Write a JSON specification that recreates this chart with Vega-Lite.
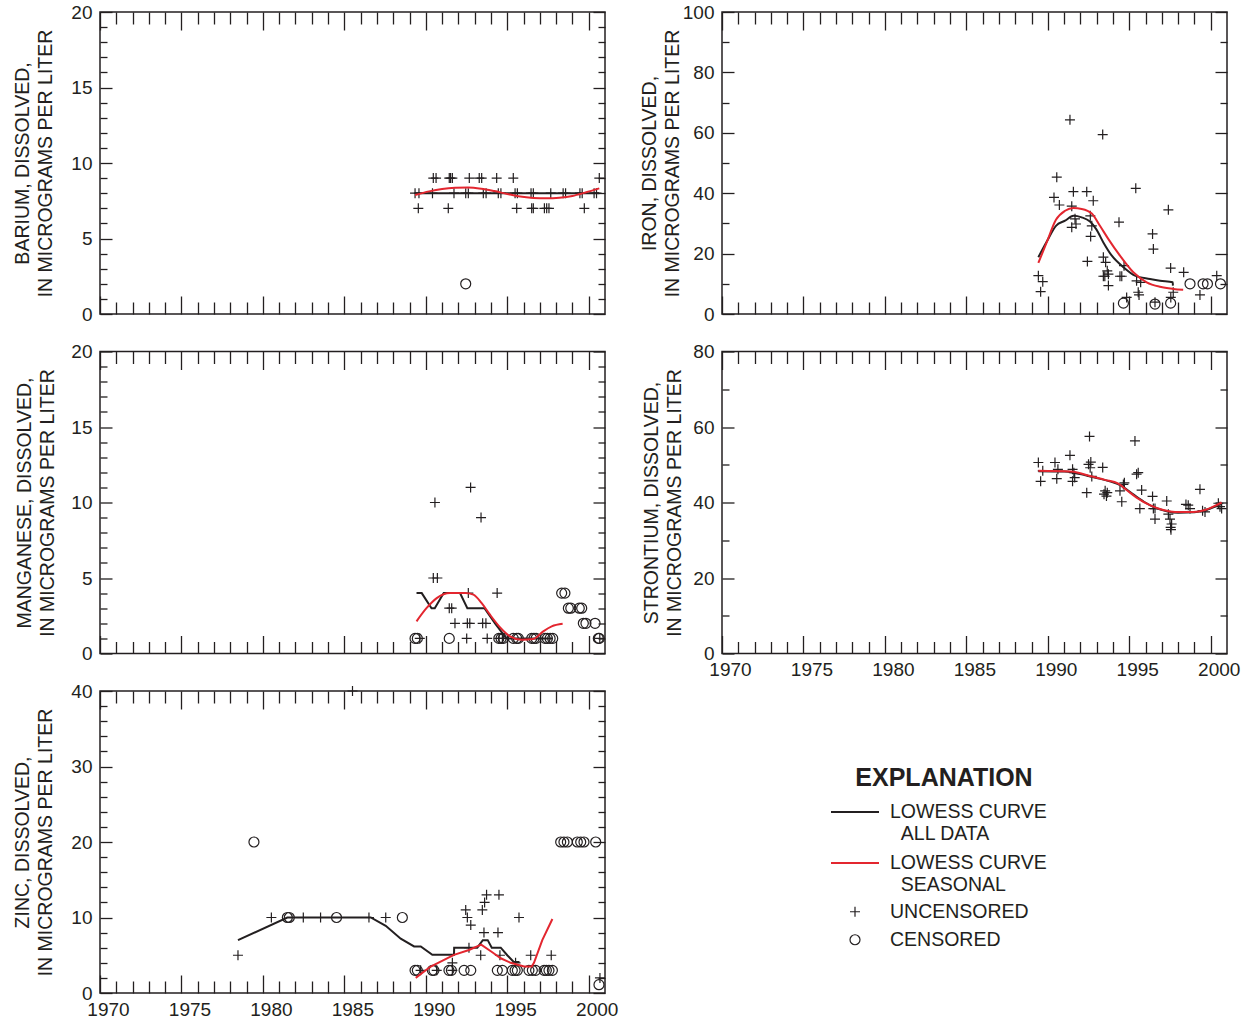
{
"$schema": "https://vega.github.io/schema/vega-lite/v6.json",
"padding": {"left": 12, "top": 2, "right": 5, "bottom": 5},
"background": "white",
"datasets": {
"ba": [
{"year":1989.34,"value":8,"kind":"uncensored"},{"year":1989.58,"value":8,"kind":"uncensored"},{"year":1990.41,"value":8,"kind":"uncensored"},{"year":1991.73,"value":8,"kind":"uncensored"},{"year":1992.45,"value":8,"kind":"uncensored"},{"year":1992.61,"value":8,"kind":"uncensored"},{"year":1993.53,"value":8,"kind":"uncensored"},{"year":1993.70,"value":8,"kind":"uncensored"},{"year":1994.45,"value":8,"kind":"uncensored"},{"year":1994.61,"value":8,"kind":"uncensored"},{"year":1995.48,"value":8,"kind":"uncensored"},{"year":1995.62,"value":8,"kind":"uncensored"},{"year":1996.46,"value":8,"kind":"uncensored"},{"year":1996.60,"value":8,"kind":"uncensored"},{"year":1997.67,"value":8,"kind":"uncensored"},{"year":1998.43,"value":8,"kind":"uncensored"},{"year":1998.58,"value":8,"kind":"uncensored"},{"year":1999.46,"value":8,"kind":"uncensored"},{"year":1999.60,"value":8,"kind":"uncensored"},{"year":2000.33,"value":8,"kind":"uncensored"},{"year":2000.48,"value":8,"kind":"uncensored"},
{"year":1990.46,"value":9,"kind":"uncensored"},{"year":1990.63,"value":9,"kind":"uncensored"},{"year":1991.44,"value":9,"kind":"uncensored"},{"year":1991.52,"value":9,"kind":"uncensored"},{"year":1991.63,"value":9,"kind":"uncensored"},{"year":1992.67,"value":9,"kind":"uncensored"},{"year":1993.28,"value":9,"kind":"uncensored"},{"year":1993.43,"value":9,"kind":"uncensored"},{"year":1994.35,"value":9,"kind":"uncensored"},{"year":1995.37,"value":9,"kind":"uncensored"},{"year":2000.65,"value":9,"kind":"uncensored"},
{"year":1989.54,"value":7,"kind":"uncensored"},{"year":1991.38,"value":7,"kind":"uncensored"},{"year":1995.58,"value":7,"kind":"uncensored"},{"year":1996.50,"value":7,"kind":"uncensored"},{"year":1996.60,"value":7,"kind":"uncensored"},{"year":1997.28,"value":7,"kind":"uncensored"},{"year":1997.42,"value":7,"kind":"uncensored"},{"year":1997.56,"value":7,"kind":"uncensored"},{"year":1999.73,"value":7,"kind":"uncensored"},
{"year":1992.45,"value":2,"kind":"censored"},
{"year":1989.34,"value":8,"kind":"all"},{"year":2000.65,"value":8,"kind":"all"},
{"year":1989.34,"value":7.88,"kind":"seasonal"},{"year":1990.2,"value":8.12,"kind":"seasonal"},{"year":1991.0,"value":8.28,"kind":"seasonal"},{"year":1991.8,"value":8.36,"kind":"seasonal"},{"year":1992.6,"value":8.38,"kind":"seasonal"},{"year":1993.4,"value":8.3,"kind":"seasonal"},{"year":1994.2,"value":8.14,"kind":"seasonal"},{"year":1995.0,"value":7.95,"kind":"seasonal"},{"year":1995.8,"value":7.78,"kind":"seasonal"},{"year":1996.6,"value":7.69,"kind":"seasonal"},{"year":1997.4,"value":7.66,"kind":"seasonal"},{"year":1998.2,"value":7.7,"kind":"seasonal"},{"year":1999.0,"value":7.82,"kind":"seasonal"},{"year":1999.8,"value":8.05,"kind":"seasonal"},{"year":2000.65,"value":8.32,"kind":"seasonal"}
],
"fe": [
{"year":1991.36,"value":64.3,"kind":"uncensored"},{"year":1993.37,"value":59.4,"kind":"uncensored"},{"year":1990.55,"value":45.3,"kind":"uncensored"},{"year":1991.57,"value":40.5,"kind":"uncensored"},{"year":1992.39,"value":40.5,"kind":"uncensored"},{"year":1990.38,"value":38.6,"kind":"uncensored"},{"year":1990.71,"value":36.1,"kind":"uncensored"},{"year":1992.79,"value":37.5,"kind":"uncensored"},{"year":1991.47,"value":35.7,"kind":"uncensored"},{"year":1995.4,"value":41.6,"kind":"uncensored"},{"year":1997.4,"value":34.5,"kind":"uncensored"},{"year":1994.37,"value":30.4,"kind":"uncensored"},{"year":1992.61,"value":32.5,"kind":"uncensored"},{"year":1991.67,"value":31.5,"kind":"uncensored"},{"year":1991.73,"value":29.8,"kind":"uncensored"},{"year":1991.47,"value":28.7,"kind":"uncensored"},{"year":1992.7,"value":29.2,"kind":"uncensored"},{"year":1992.63,"value":25.7,"kind":"uncensored"},{"year":1996.43,"value":26.5,"kind":"uncensored"},{"year":1996.48,"value":21.5,"kind":"uncensored"},{"year":1992.43,"value":17.4,"kind":"uncensored"},{"year":1993.41,"value":18.8,"kind":"uncensored"},{"year":1993.55,"value":17.1,"kind":"uncensored"},{"year":1993.65,"value":14.3,"kind":"uncensored"},{"year":1993.72,"value":13.2,"kind":"uncensored"},{"year":1993.41,"value":12.5,"kind":"uncensored"},{"year":1993.5,"value":12.5,"kind":"uncensored"},{"year":1993.72,"value":9.4,"kind":"uncensored"},{"year":1994.43,"value":12.5,"kind":"uncensored"},{"year":1994.54,"value":12.5,"kind":"uncensored"},{"year":1994.68,"value":16,"kind":"uncensored"},{"year":1995.45,"value":11,"kind":"uncensored"},{"year":1995.7,"value":10.5,"kind":"uncensored"},{"year":1995.55,"value":7.2,"kind":"uncensored"},{"year":1995.6,"value":6.3,"kind":"uncensored"},{"year":1997.54,"value":15.2,"kind":"uncensored"},{"year":1998.34,"value":13.8,"kind":"uncensored"},{"year":1997.7,"value":7.2,"kind":"uncensored"},{"year":1997.55,"value":5.5,"kind":"uncensored"},{"year":1999.34,"value":6.3,"kind":"uncensored"},{"year":2000.37,"value":12.7,"kind":"uncensored"},{"year":1989.42,"value":12.7,"kind":"uncensored"},{"year":1989.69,"value":10.7,"kind":"uncensored"},{"year":1989.56,"value":7.4,"kind":"uncensored"},{"year":1994.84,"value":5.5,"kind":"uncensored"},{"year":1996.58,"value":3.9,"kind":"uncensored"},
{"year":1994.64,"value":3.6,"kind":"censored"},{"year":1996.58,"value":3.3,"kind":"censored"},{"year":1997.54,"value":3.6,"kind":"censored"},{"year":1998.73,"value":10,"kind":"censored"},{"year":1999.53,"value":10,"kind":"censored"},{"year":1999.8,"value":10,"kind":"censored"},{"year":2000.6,"value":10,"kind":"censored"},
{"year":1989.42,"value":18.8,"kind":"all"},{"year":1989.93,"value":23.9,"kind":"all"},{"year":1990.5,"value":29.2,"kind":"all"},{"year":1991.06,"value":30.9,"kind":"all"},{"year":1991.57,"value":32.5,"kind":"all"},{"year":1992.08,"value":32,"kind":"all"},{"year":1992.59,"value":30.6,"kind":"all"},{"year":1992.97,"value":28.1,"kind":"all"},{"year":1993.41,"value":23.7,"kind":"all"},{"year":1993.93,"value":19.3,"kind":"all"},{"year":1994.64,"value":15.5,"kind":"all"},{"year":1995.35,"value":12.7,"kind":"all"},{"year":1996.27,"value":11.6,"kind":"all"},{"year":1996.89,"value":11,"kind":"all"},{"year":1997.67,"value":10.5,"kind":"all"},{"year":1997.68,"value":9.4,"kind":"all"},
{"year":1989.42,"value":16.9,"kind":"seasonal"},{"year":1989.93,"value":23.7,"kind":"seasonal"},{"year":1990.5,"value":31.2,"kind":"seasonal"},{"year":1991.06,"value":34.2,"kind":"seasonal"},{"year":1991.57,"value":35.1,"kind":"seasonal"},{"year":1992.08,"value":34.8,"kind":"seasonal"},{"year":1992.7,"value":33.3,"kind":"seasonal"},{"year":1993.2,"value":29.2,"kind":"seasonal"},{"year":1993.72,"value":24.8,"kind":"seasonal"},{"year":1994.43,"value":19.3,"kind":"seasonal"},{"year":1995.25,"value":13.8,"kind":"seasonal"},{"year":1996.07,"value":10.5,"kind":"seasonal"},{"year":1996.89,"value":9,"kind":"seasonal"},{"year":1997.7,"value":8.3,"kind":"seasonal"},{"year":1998.31,"value":8,"kind":"seasonal"}
],
"mn": [
{"year":1990.56,"value":10,"kind":"uncensored"},{"year":1992.75,"value":11,"kind":"uncensored"},{"year":1993.39,"value":9,"kind":"uncensored"},{"year":1990.46,"value":5,"kind":"uncensored"},{"year":1990.71,"value":5,"kind":"uncensored"},{"year":1992.61,"value":4,"kind":"uncensored"},{"year":1994.38,"value":4,"kind":"uncensored"},{"year":1991.44,"value":3,"kind":"uncensored"},{"year":1991.59,"value":3,"kind":"uncensored"},{"year":1991.79,"value":2,"kind":"uncensored"},{"year":1992.55,"value":2,"kind":"uncensored"},{"year":1992.7,"value":2,"kind":"uncensored"},{"year":1993.49,"value":2,"kind":"uncensored"},{"year":1993.69,"value":2,"kind":"uncensored"},{"year":1989.63,"value":1,"kind":"uncensored"},{"year":1992.51,"value":1,"kind":"uncensored"},{"year":1993.77,"value":1,"kind":"uncensored"},{"year":1994.5,"value":1,"kind":"uncensored"},{"year":1994.7,"value":1,"kind":"uncensored"},{"year":2000.68,"value":1,"kind":"uncensored"},
{"year":1989.34,"value":1,"kind":"censored"},{"year":1989.48,"value":1,"kind":"censored"},{"year":1991.44,"value":1,"kind":"censored"},{"year":1994.48,"value":1,"kind":"censored"},{"year":1994.62,"value":1,"kind":"censored"},{"year":1994.76,"value":1,"kind":"censored"},{"year":1995.37,"value":1,"kind":"censored"},{"year":1995.58,"value":1,"kind":"censored"},{"year":1995.68,"value":1,"kind":"censored"},{"year":1996.5,"value":1,"kind":"censored"},{"year":1996.64,"value":1,"kind":"censored"},{"year":1996.77,"value":1,"kind":"censored"},{"year":1997.32,"value":1,"kind":"censored"},{"year":1997.46,"value":1,"kind":"censored"},{"year":1997.63,"value":1,"kind":"censored"},{"year":1997.79,"value":1,"kind":"censored"},{"year":1998.34,"value":4,"kind":"censored"},{"year":1998.54,"value":4,"kind":"censored"},{"year":1998.75,"value":3,"kind":"censored"},{"year":1998.9,"value":3,"kind":"censored"},{"year":1999.42,"value":3,"kind":"censored"},{"year":1999.57,"value":3,"kind":"censored"},{"year":1999.67,"value":2,"kind":"censored"},{"year":1999.83,"value":2,"kind":"censored"},{"year":2000.39,"value":2,"kind":"censored"},{"year":2000.59,"value":1,"kind":"censored"},{"year":2000.65,"value":1,"kind":"censored"},
{"year":1989.43,"value":4,"kind":"all"},{"year":1989.75,"value":4,"kind":"all"},{"year":1990.35,"value":3,"kind":"all"},{"year":1990.55,"value":3,"kind":"all"},{"year":1991.1,"value":4,"kind":"all"},{"year":1992.1,"value":4,"kind":"all"},{"year":1992.55,"value":3,"kind":"all"},{"year":1993.6,"value":3,"kind":"all"},{"year":1994.25,"value":2,"kind":"all"},{"year":1994.95,"value":1,"kind":"all"},{"year":1997.8,"value":1,"kind":"all"},
{"year":1989.43,"value":2.13,"kind":"seasonal"},{"year":1990.04,"value":3.0,"kind":"seasonal"},{"year":1990.67,"value":3.67,"kind":"seasonal"},{"year":1991.49,"value":4.0,"kind":"seasonal"},{"year":1992.41,"value":4.0,"kind":"seasonal"},{"year":1992.92,"value":3.9,"kind":"seasonal"},{"year":1993.43,"value":3.34,"kind":"seasonal"},{"year":1993.94,"value":2.57,"kind":"seasonal"},{"year":1994.56,"value":1.73,"kind":"seasonal"},{"year":1995.17,"value":1.14,"kind":"seasonal"},{"year":1995.89,"value":0.91,"kind":"seasonal"},{"year":1996.6,"value":0.96,"kind":"seasonal"},{"year":1997.21,"value":1.47,"kind":"seasonal"},{"year":1997.73,"value":1.8,"kind":"seasonal"},{"year":1998.4,"value":1.97,"kind":"seasonal"}
],
"sr": [
{"year":1989.42,"value":50.6,"kind":"uncensored"},{"year":1989.56,"value":45.6,"kind":"uncensored"},{"year":1989.69,"value":48.4,"kind":"uncensored"},{"year":1990.44,"value":50.6,"kind":"uncensored"},{"year":1990.55,"value":46.3,"kind":"uncensored"},{"year":1990.62,"value":48.8,"kind":"uncensored"},{"year":1991.36,"value":52.5,"kind":"uncensored"},{"year":1991.52,"value":48.8,"kind":"uncensored"},{"year":1991.6,"value":47.9,"kind":"uncensored"},{"year":1991.52,"value":45.6,"kind":"uncensored"},{"year":1991.65,"value":46.6,"kind":"uncensored"},{"year":1992.56,"value":57.5,"kind":"uncensored"},{"year":1992.39,"value":42.6,"kind":"uncensored"},{"year":1992.5,"value":50.1,"kind":"uncensored"},{"year":1992.64,"value":50.7,"kind":"uncensored"},{"year":1992.7,"value":46.9,"kind":"uncensored"},{"year":1992.6,"value":49.2,"kind":"uncensored"},{"year":1993.37,"value":49.3,"kind":"uncensored"},{"year":1993.45,"value":42.2,"kind":"uncensored"},{"year":1993.52,"value":43.1,"kind":"uncensored"},{"year":1993.6,"value":41.7,"kind":"uncensored"},{"year":1993.65,"value":42.6,"kind":"uncensored"},{"year":1994.43,"value":43.1,"kind":"uncensored"},{"year":1994.54,"value":40.2,"kind":"uncensored"},{"year":1994.64,"value":44.8,"kind":"uncensored"},{"year":1994.7,"value":45.2,"kind":"uncensored"},{"year":1995.35,"value":56.3,"kind":"uncensored"},{"year":1995.45,"value":47.5,"kind":"uncensored"},{"year":1995.55,"value":47.9,"kind":"uncensored"},{"year":1995.76,"value":43.3,"kind":"uncensored"},{"year":1995.65,"value":38.4,"kind":"uncensored"},{"year":1996.43,"value":41.6,"kind":"uncensored"},{"year":1996.48,"value":38.4,"kind":"uncensored"},{"year":1996.58,"value":38.4,"kind":"uncensored"},{"year":1996.58,"value":35.6,"kind":"uncensored"},{"year":1997.3,"value":40.4,"kind":"uncensored"},{"year":1997.4,"value":36.9,"kind":"uncensored"},{"year":1997.5,"value":35.6,"kind":"uncensored"},{"year":1997.6,"value":34.3,"kind":"uncensored"},{"year":1997.54,"value":33.4,"kind":"uncensored"},{"year":1997.56,"value":32.8,"kind":"uncensored"},{"year":1998.48,"value":39.5,"kind":"uncensored"},{"year":1998.62,"value":39.3,"kind":"uncensored"},{"year":1998.73,"value":38.4,"kind":"uncensored"},{"year":1999.34,"value":43.5,"kind":"uncensored"},{"year":1999.5,"value":37.8,"kind":"uncensored"},{"year":1999.65,"value":37.5,"kind":"uncensored"},{"year":2000.47,"value":39.8,"kind":"uncensored"},{"year":2000.57,"value":38.9,"kind":"uncensored"},{"year":2000.67,"value":38.4,"kind":"uncensored"},
{"year":1989.42,"value":48.3,"kind":"all"},{"year":1991.0,"value":48.2,"kind":"all"},{"year":1991.6,"value":47.9,"kind":"all"},{"year":1992.3,"value":47.2,"kind":"all"},{"year":1993.0,"value":46.5,"kind":"all"},{"year":1993.8,"value":45.6,"kind":"all"},{"year":1994.5,"value":44.5,"kind":"all"},{"year":1995.2,"value":42.3,"kind":"all"},{"year":1995.9,"value":40.2,"kind":"all"},{"year":1996.6,"value":38.6,"kind":"all"},{"year":1997.3,"value":37.7,"kind":"all"},{"year":1998.0,"value":37.3,"kind":"all"},{"year":1999.0,"value":37.4,"kind":"all"},{"year":1999.7,"value":38.0,"kind":"all"},{"year":2000.2,"value":38.8,"kind":"all"},{"year":2000.67,"value":39.8,"kind":"all"},
{"year":1989.42,"value":48.4,"kind":"seasonal"},{"year":1991.36,"value":48.2,"kind":"seasonal"},{"year":1991.87,"value":47.9,"kind":"seasonal"},{"year":1992.59,"value":47.0,"kind":"seasonal"},{"year":1993.51,"value":46.0,"kind":"seasonal"},{"year":1994.33,"value":45.0,"kind":"seasonal"},{"year":1994.84,"value":43.3,"kind":"seasonal"},{"year":1995.45,"value":41.3,"kind":"seasonal"},{"year":1996.27,"value":39.3,"kind":"seasonal"},{"year":1997.09,"value":38.0,"kind":"seasonal"},{"year":1997.81,"value":37.5,"kind":"seasonal"},{"year":1998.93,"value":37.5,"kind":"seasonal"},{"year":1999.65,"value":38.0,"kind":"seasonal"},{"year":2000.16,"value":38.9,"kind":"seasonal"},{"year":2000.67,"value":40.0,"kind":"seasonal"}
],
"zn": [
{"year":1978.47,"value":5,"kind":"uncensored"},{"year":1980.52,"value":10,"kind":"uncensored"},{"year":1982.48,"value":10,"kind":"uncensored"},{"year":1983.54,"value":10,"kind":"uncensored"},{"year":1985.5,"value":40,"kind":"uncensored"},{"year":1986.51,"value":10,"kind":"uncensored"},{"year":1987.54,"value":10,"kind":"uncensored"},{"year":1989.68,"value":3,"kind":"uncensored"},{"year":1990.67,"value":3,"kind":"uncensored"},{"year":1991.63,"value":3,"kind":"uncensored"},{"year":1991.63,"value":4,"kind":"uncensored"},{"year":1992.45,"value":11,"kind":"uncensored"},{"year":1992.55,"value":10,"kind":"uncensored"},{"year":1992.76,"value":9,"kind":"uncensored"},{"year":1992.65,"value":6,"kind":"uncensored"},{"year":1993.47,"value":11,"kind":"uncensored"},{"year":1993.61,"value":12,"kind":"uncensored"},{"year":1993.73,"value":13,"kind":"uncensored"},{"year":1993.57,"value":8,"kind":"uncensored"},{"year":1993.37,"value":5,"kind":"uncensored"},{"year":1994.49,"value":13,"kind":"uncensored"},{"year":1994.43,"value":8,"kind":"uncensored"},{"year":1994.55,"value":5,"kind":"uncensored"},{"year":1995.51,"value":4,"kind":"uncensored"},{"year":1995.72,"value":10,"kind":"uncensored"},{"year":1996.44,"value":5,"kind":"uncensored"},{"year":1997.7,"value":5,"kind":"uncensored"},{"year":2000.69,"value":2,"kind":"uncensored"},
{"year":1979.45,"value":20,"kind":"censored"},{"year":1981.5,"value":10,"kind":"censored"},{"year":1981.62,"value":10,"kind":"censored"},{"year":1984.52,"value":10,"kind":"censored"},{"year":1988.56,"value":10,"kind":"censored"},{"year":1989.34,"value":3,"kind":"censored"},{"year":1989.48,"value":3,"kind":"censored"},{"year":1990.4,"value":3,"kind":"censored"},{"year":1990.5,"value":3,"kind":"censored"},{"year":1991.42,"value":3,"kind":"censored"},{"year":1991.57,"value":3,"kind":"censored"},{"year":1992.35,"value":3,"kind":"censored"},{"year":1992.76,"value":3,"kind":"censored"},{"year":1994.39,"value":3,"kind":"censored"},{"year":1994.7,"value":3,"kind":"censored"},{"year":1995.31,"value":3,"kind":"censored"},{"year":1995.48,"value":3,"kind":"censored"},{"year":1995.62,"value":3,"kind":"censored"},{"year":1996.33,"value":3,"kind":"censored"},{"year":1996.54,"value":3,"kind":"censored"},{"year":1996.74,"value":3,"kind":"censored"},{"year":1997.26,"value":3,"kind":"censored"},{"year":1997.4,"value":3,"kind":"censored"},{"year":1997.56,"value":3,"kind":"censored"},{"year":1997.77,"value":3,"kind":"censored"},{"year":1998.28,"value":20,"kind":"censored"},{"year":1998.48,"value":20,"kind":"censored"},{"year":1998.69,"value":20,"kind":"censored"},{"year":1999.3,"value":20,"kind":"censored"},{"year":1999.51,"value":20,"kind":"censored"},{"year":1999.71,"value":20,"kind":"censored"},{"year":2000.43,"value":20,"kind":"censored"},{"year":2000.63,"value":1.1,"kind":"censored"},
{"year":1978.47,"value":7.0,"kind":"all"},{"year":1981.5,"value":10,"kind":"all"},{"year":1986.62,"value":10,"kind":"all"},{"year":1987.54,"value":8.9,"kind":"all"},{"year":1988.46,"value":7.2,"kind":"all"},{"year":1989.28,"value":6.17,"kind":"all"},{"year":1989.69,"value":6.17,"kind":"all"},{"year":1990.4,"value":5.05,"kind":"all"},{"year":1991.73,"value":5.05,"kind":"all"},{"year":1991.74,"value":6.0,"kind":"all"},{"year":1993.16,"value":6.0,"kind":"all"},{"year":1993.5,"value":7.0,"kind":"all"},{"year":1993.8,"value":7.0,"kind":"all"},{"year":1994.05,"value":6.0,"kind":"all"},{"year":1994.6,"value":6.0,"kind":"all"},{"year":1995.0,"value":5.0,"kind":"all"},{"year":1995.4,"value":4.1,"kind":"all"},{"year":1995.75,"value":4.1,"kind":"all"},
{"year":1989.38,"value":2.0,"kind":"seasonal"},{"year":1990.3,"value":3.5,"kind":"seasonal"},{"year":1991.73,"value":5.05,"kind":"seasonal"},{"year":1992.65,"value":5.7,"kind":"seasonal"},{"year":1993.4,"value":6.4,"kind":"seasonal"},{"year":1994.08,"value":5.4,"kind":"seasonal"},{"year":1994.6,"value":4.6,"kind":"seasonal"},{"year":1995.21,"value":4.0,"kind":"seasonal"},{"year":1996.03,"value":3.5,"kind":"seasonal"},{"year":1996.5,"value":3.5,"kind":"seasonal"},{"year":1996.64,"value":4.0,"kind":"seasonal"},{"year":1997.15,"value":7.0,"kind":"seasonal"},{"year":1997.77,"value":9.8,"kind":"seasonal"}
]
},
"columns": 2,
"spacing": {"row": 37.5, "column": 117},
"bounds": "flush",
"concat": [
{
"width": 505, "height": 302, "data": {"name": "ba"},
"layer": [
{"transform": [{"filter": "datum.kind === 'uncensored'"}], "mark": {"type": "point", "filled": false, "opacity": 1},
"encoding": {
"x": {"field": "year", "type": "quantitative", "scale": {"domain": [1970, 2001], "nice": false, "zero": false}, "axis": {"orient": "bottom", "values": [1970,1975,1980,1985,1990,1995,2000], "tickSize": -18, "labels": false, "title": null}},
"y": {"field": "value", "type": "quantitative", "scale": {"domain": [0, 20], "nice": false}, "axis": {"orient": "left", "values": [0,5,10,15,20], "tickSize": -12, "labelPadding": 20, "title": ["BARIUM, DISSOLVED,", "IN MICROGRAMS PER LITER"], "titlePadding": 15}},
"color": {"field": "kind", "type": "nominal", "title": "EXPLANATION", "scale": {"domain": ["all","seasonal","uncensored","censored"], "range": ["#231f20","#e3262f","#231f20","#231f20"]}, "legend": {"labelExpr": "datum.value === 'all' ? ['LOWESS CURVE', '\u200b\u00a0\u00a0ALL DATA'] : datum.value === 'seasonal' ? ['LOWESS CURVE', '\u200b\u00a0\u00a0SEASONAL'] : datum.value === 'uncensored' ? 'UNCENSORED' : 'CENSORED'"}},
"shape": {"field": "kind", "type": "nominal", "title": "EXPLANATION", "scale": {"domain": ["all","seasonal","uncensored","censored"], "range": ["M-2,0H2","M-2,0H2","M-1,0H1M0,-1V1","circle"]}},
"size": {"field": "kind", "type": "nominal", "title": "EXPLANATION", "scale": {"type": "ordinal", "domain": ["all","seasonal","uncensored","censored"], "range": [576,576,100,100]}},
"strokeWidth": {"field": "kind", "type": "nominal", "title": "EXPLANATION", "scale": {"type": "ordinal", "domain": ["all","seasonal","uncensored","censored"], "range": [2,2,1.2,1.2]}}
}},
{"transform": [{"filter": "datum.kind === 'censored'"}], "mark": {"type": "point", "filled": false, "opacity": 1},
"encoding": {
"x": {"field": "year", "type": "quantitative", "scale": {"domain": [1970, 2001], "nice": false, "zero": false}, "axis": {"orient": "bottom", "values": [1971,1972,1973,1974,1976,1977,1978,1979,1981,1982,1983,1984,1986,1987,1988,1989,1991,1992,1993,1994,1996,1997,1998,1999], "tickSize": -12, "labels": false, "title": null}},
"y": {"field": "value", "type": "quantitative", "scale": {"domain": [0, 20], "nice": false}, "axis": {"orient": "left", "values": [1,2,3,4,6,7,8,9,11,12,13,14,16,17,18,19], "tickSize": -7, "labels": false, "title": null}},
"color": {"field": "kind", "type": "nominal", "title": "EXPLANATION", "scale": {"domain": ["all","seasonal","uncensored","censored"], "range": ["#231f20","#e3262f","#231f20","#231f20"]}},
"shape": {"field": "kind", "type": "nominal", "title": "EXPLANATION", "scale": {"domain": ["all","seasonal","uncensored","censored"], "range": ["M-2,0H2","M-2,0H2","M-1,0H1M0,-1V1","circle"]}},
"size": {"field": "kind", "type": "nominal", "title": "EXPLANATION", "scale": {"type": "ordinal", "domain": ["all","seasonal","uncensored","censored"], "range": [576,576,100,100]}},
"strokeWidth": {"field": "kind", "type": "nominal", "title": "EXPLANATION", "scale": {"type": "ordinal", "domain": ["all","seasonal","uncensored","censored"], "range": [2,2,1.2,1.2]}}
}},
{"transform": [{"filter": "datum.kind === 'all'"}], "mark": {"type": "line", "interpolate": "linear"},
"encoding": {
"x": {"field": "year", "type": "quantitative", "scale": {"domain": [1970, 2001], "nice": false, "zero": false}, "axis": {"orient": "top", "values": [1970,1975,1980,1985,1990,1995,2000], "tickSize": -18, "labels": false, "title": null}},
"y": {"field": "value", "type": "quantitative", "scale": {"domain": [0, 20], "nice": false}, "axis": {"orient": "right", "values": [0,5,10,15,20], "tickSize": -12, "labels": false, "title": null}},
"color": {"field": "kind", "type": "nominal", "title": "EXPLANATION", "scale": {"domain": ["all","seasonal","uncensored","censored"], "range": ["#231f20","#e3262f","#231f20","#231f20"]}},
"strokeWidth": {"field": "kind", "type": "nominal", "title": "EXPLANATION", "scale": {"type": "ordinal", "domain": ["all","seasonal","uncensored","censored"], "range": [2,2,1.2,1.2]}}
}},
{"transform": [{"filter": "datum.kind === 'seasonal'"}], "mark": {"type": "line", "interpolate": "monotone"},
"encoding": {
"x": {"field": "year", "type": "quantitative", "scale": {"domain": [1970, 2001], "nice": false, "zero": false}, "axis": {"orient": "top", "values": [1971,1972,1973,1974,1976,1977,1978,1979,1981,1982,1983,1984,1986,1987,1988,1989,1991,1992,1993,1994,1996,1997,1998,1999], "tickSize": -12, "labels": false, "title": null}},
"y": {"field": "value", "type": "quantitative", "scale": {"domain": [0, 20], "nice": false}, "axis": {"orient": "right", "values": [1,2,3,4,6,7,8,9,11,12,13,14,16,17,18,19], "tickSize": -7, "labels": false, "title": null}},
"color": {"field": "kind", "type": "nominal", "title": "EXPLANATION", "scale": {"domain": ["all","seasonal","uncensored","censored"], "range": ["#231f20","#e3262f","#231f20","#231f20"]}},
"strokeWidth": {"field": "kind", "type": "nominal", "title": "EXPLANATION", "scale": {"type": "ordinal", "domain": ["all","seasonal","uncensored","censored"], "range": [2,2,1.2,1.2]}}
}}
],
"resolve": {"axis": {"x": "independent", "y": "independent"}}
},
{
"width": 505, "height": 302, "data": {"name": "fe"},
"layer": [
{"transform": [{"filter": "datum.kind === 'uncensored'"}], "mark": {"type": "point", "filled": false, "opacity": 1},
"encoding": {
"x": {"field": "year", "type": "quantitative", "scale": {"domain": [1970, 2001], "nice": false, "zero": false}, "axis": {"orient": "bottom", "values": [1970,1975,1980,1985,1990,1995,2000], "tickSize": -18, "labels": false, "title": null}},
"y": {"field": "value", "type": "quantitative", "scale": {"domain": [0, 100], "nice": false}, "axis": {"orient": "left", "values": [0,20,40,60,80,100], "tickSize": -12, "labelPadding": 20, "title": ["IRON, DISSOLVED,", "IN MICROGRAMS PER LITER"], "titlePadding": 0}},
"color": {"field": "kind", "type": "nominal", "title": "EXPLANATION", "scale": {"domain": ["all","seasonal","uncensored","censored"], "range": ["#231f20","#e3262f","#231f20","#231f20"]}},
"shape": {"field": "kind", "type": "nominal", "title": "EXPLANATION", "scale": {"domain": ["all","seasonal","uncensored","censored"], "range": ["M-2,0H2","M-2,0H2","M-1,0H1M0,-1V1","circle"]}},
"size": {"field": "kind", "type": "nominal", "title": "EXPLANATION", "scale": {"type": "ordinal", "domain": ["all","seasonal","uncensored","censored"], "range": [576,576,100,100]}},
"strokeWidth": {"field": "kind", "type": "nominal", "title": "EXPLANATION", "scale": {"type": "ordinal", "domain": ["all","seasonal","uncensored","censored"], "range": [2,2,1.2,1.2]}}
}},
{"transform": [{"filter": "datum.kind === 'censored'"}], "mark": {"type": "point", "filled": false, "opacity": 1},
"encoding": {
"x": {"field": "year", "type": "quantitative", "scale": {"domain": [1970, 2001], "nice": false, "zero": false}, "axis": {"orient": "bottom", "values": [1971,1972,1973,1974,1976,1977,1978,1979,1981,1982,1983,1984,1986,1987,1988,1989,1991,1992,1993,1994,1996,1997,1998,1999], "tickSize": -12, "labels": false, "title": null}},
"y": {"field": "value", "type": "quantitative", "scale": {"domain": [0, 100], "nice": false}, "axis": {"orient": "left", "values": [10,30,50,70,90], "tickSize": -7, "labels": false, "title": null}},
"color": {"field": "kind", "type": "nominal", "title": "EXPLANATION", "scale": {"domain": ["all","seasonal","uncensored","censored"], "range": ["#231f20","#e3262f","#231f20","#231f20"]}},
"shape": {"field": "kind", "type": "nominal", "title": "EXPLANATION", "scale": {"domain": ["all","seasonal","uncensored","censored"], "range": ["M-2,0H2","M-2,0H2","M-1,0H1M0,-1V1","circle"]}},
"size": {"field": "kind", "type": "nominal", "title": "EXPLANATION", "scale": {"type": "ordinal", "domain": ["all","seasonal","uncensored","censored"], "range": [576,576,100,100]}},
"strokeWidth": {"field": "kind", "type": "nominal", "title": "EXPLANATION", "scale": {"type": "ordinal", "domain": ["all","seasonal","uncensored","censored"], "range": [2,2,1.2,1.2]}}
}},
{"transform": [{"filter": "datum.kind === 'all'"}], "mark": {"type": "line", "interpolate": "monotone"},
"encoding": {
"x": {"field": "year", "type": "quantitative", "scale": {"domain": [1970, 2001], "nice": false, "zero": false}, "axis": {"orient": "top", "values": [1970,1975,1980,1985,1990,1995,2000], "tickSize": -18, "labels": false, "title": null}},
"y": {"field": "value", "type": "quantitative", "scale": {"domain": [0, 100], "nice": false}, "axis": {"orient": "right", "values": [0,20,40,60,80,100], "tickSize": -12, "labels": false, "title": null}},
"color": {"field": "kind", "type": "nominal", "title": "EXPLANATION", "scale": {"domain": ["all","seasonal","uncensored","censored"], "range": ["#231f20","#e3262f","#231f20","#231f20"]}},
"strokeWidth": {"field": "kind", "type": "nominal", "title": "EXPLANATION", "scale": {"type": "ordinal", "domain": ["all","seasonal","uncensored","censored"], "range": [2,2,1.2,1.2]}}
}},
{"transform": [{"filter": "datum.kind === 'seasonal'"}], "mark": {"type": "line", "interpolate": "monotone"},
"encoding": {
"x": {"field": "year", "type": "quantitative", "scale": {"domain": [1970, 2001], "nice": false, "zero": false}, "axis": {"orient": "top", "values": [1971,1972,1973,1974,1976,1977,1978,1979,1981,1982,1983,1984,1986,1987,1988,1989,1991,1992,1993,1994,1996,1997,1998,1999], "tickSize": -12, "labels": false, "title": null}},
"y": {"field": "value", "type": "quantitative", "scale": {"domain": [0, 100], "nice": false}, "axis": {"orient": "right", "values": [10,30,50,70,90], "tickSize": -7, "labels": false, "title": null}},
"color": {"field": "kind", "type": "nominal", "title": "EXPLANATION", "scale": {"domain": ["all","seasonal","uncensored","censored"], "range": ["#231f20","#e3262f","#231f20","#231f20"]}},
"strokeWidth": {"field": "kind", "type": "nominal", "title": "EXPLANATION", "scale": {"type": "ordinal", "domain": ["all","seasonal","uncensored","censored"], "range": [2,2,1.2,1.2]}}
}}
],
"resolve": {"axis": {"x": "independent", "y": "independent"}}
},
{
"width": 505, "height": 302, "data": {"name": "mn"},
"layer": [
{"transform": [{"filter": "datum.kind === 'uncensored'"}], "mark": {"type": "point", "filled": false, "opacity": 1},
"encoding": {
"x": {"field": "year", "type": "quantitative", "scale": {"domain": [1970, 2001], "nice": false, "zero": false}, "axis": {"orient": "bottom", "values": [1970,1975,1980,1985,1990,1995,2000], "tickSize": -18, "labels": false, "title": null}},
"y": {"field": "value", "type": "quantitative", "scale": {"domain": [0, 20], "nice": false}, "axis": {"orient": "left", "values": [0,5,10,15,20], "tickSize": -12, "labelPadding": 20, "title": ["MANGANESE, DISSOLVED,", "IN MICROGRAMS PER LITER"], "titlePadding": 13}},
"color": {"field": "kind", "type": "nominal", "title": "EXPLANATION", "scale": {"domain": ["all","seasonal","uncensored","censored"], "range": ["#231f20","#e3262f","#231f20","#231f20"]}},
"shape": {"field": "kind", "type": "nominal", "title": "EXPLANATION", "scale": {"domain": ["all","seasonal","uncensored","censored"], "range": ["M-2,0H2","M-2,0H2","M-1,0H1M0,-1V1","circle"]}},
"size": {"field": "kind", "type": "nominal", "title": "EXPLANATION", "scale": {"type": "ordinal", "domain": ["all","seasonal","uncensored","censored"], "range": [576,576,100,100]}},
"strokeWidth": {"field": "kind", "type": "nominal", "title": "EXPLANATION", "scale": {"type": "ordinal", "domain": ["all","seasonal","uncensored","censored"], "range": [2,2,1.2,1.2]}}
}},
{"transform": [{"filter": "datum.kind === 'censored'"}], "mark": {"type": "point", "filled": false, "opacity": 1},
"encoding": {
"x": {"field": "year", "type": "quantitative", "scale": {"domain": [1970, 2001], "nice": false, "zero": false}, "axis": {"orient": "bottom", "values": [1971,1972,1973,1974,1976,1977,1978,1979,1981,1982,1983,1984,1986,1987,1988,1989,1991,1992,1993,1994,1996,1997,1998,1999], "tickSize": -12, "labels": false, "title": null}},
"y": {"field": "value", "type": "quantitative", "scale": {"domain": [0, 20], "nice": false}, "axis": {"orient": "left", "values": [1,2,3,4,6,7,8,9,11,12,13,14,16,17,18,19], "tickSize": -7, "labels": false, "title": null}},
"color": {"field": "kind", "type": "nominal", "title": "EXPLANATION", "scale": {"domain": ["all","seasonal","uncensored","censored"], "range": ["#231f20","#e3262f","#231f20","#231f20"]}},
"shape": {"field": "kind", "type": "nominal", "title": "EXPLANATION", "scale": {"domain": ["all","seasonal","uncensored","censored"], "range": ["M-2,0H2","M-2,0H2","M-1,0H1M0,-1V1","circle"]}},
"size": {"field": "kind", "type": "nominal", "title": "EXPLANATION", "scale": {"type": "ordinal", "domain": ["all","seasonal","uncensored","censored"], "range": [576,576,100,100]}},
"strokeWidth": {"field": "kind", "type": "nominal", "title": "EXPLANATION", "scale": {"type": "ordinal", "domain": ["all","seasonal","uncensored","censored"], "range": [2,2,1.2,1.2]}}
}},
{"transform": [{"filter": "datum.kind === 'all'"}], "mark": {"type": "line", "interpolate": "linear"},
"encoding": {
"x": {"field": "year", "type": "quantitative", "scale": {"domain": [1970, 2001], "nice": false, "zero": false}, "axis": {"orient": "top", "values": [1970,1975,1980,1985,1990,1995,2000], "tickSize": -18, "labels": false, "title": null}},
"y": {"field": "value", "type": "quantitative", "scale": {"domain": [0, 20], "nice": false}, "axis": {"orient": "right", "values": [0,5,10,15,20], "tickSize": -12, "labels": false, "title": null}},
"color": {"field": "kind", "type": "nominal", "title": "EXPLANATION", "scale": {"domain": ["all","seasonal","uncensored","censored"], "range": ["#231f20","#e3262f","#231f20","#231f20"]}},
"strokeWidth": {"field": "kind", "type": "nominal", "title": "EXPLANATION", "scale": {"type": "ordinal", "domain": ["all","seasonal","uncensored","censored"], "range": [2,2,1.2,1.2]}}
}},
{"transform": [{"filter": "datum.kind === 'seasonal'"}], "mark": {"type": "line", "interpolate": "monotone"},
"encoding": {
"x": {"field": "year", "type": "quantitative", "scale": {"domain": [1970, 2001], "nice": false, "zero": false}, "axis": {"orient": "top", "values": [1971,1972,1973,1974,1976,1977,1978,1979,1981,1982,1983,1984,1986,1987,1988,1989,1991,1992,1993,1994,1996,1997,1998,1999], "tickSize": -12, "labels": false, "title": null}},
"y": {"field": "value", "type": "quantitative", "scale": {"domain": [0, 20], "nice": false}, "axis": {"orient": "right", "values": [1,2,3,4,6,7,8,9,11,12,13,14,16,17,18,19], "tickSize": -7, "labels": false, "title": null}},
"color": {"field": "kind", "type": "nominal", "title": "EXPLANATION", "scale": {"domain": ["all","seasonal","uncensored","censored"], "range": ["#231f20","#e3262f","#231f20","#231f20"]}},
"strokeWidth": {"field": "kind", "type": "nominal", "title": "EXPLANATION", "scale": {"type": "ordinal", "domain": ["all","seasonal","uncensored","censored"], "range": [2,2,1.2,1.2]}}
}}
],
"resolve": {"axis": {"x": "independent", "y": "independent"}}
},
{
"width": 505, "height": 302, "data": {"name": "sr"},
"layer": [
{"transform": [{"filter": "datum.kind === 'uncensored'"}], "mark": {"type": "point", "filled": false, "opacity": 1},
"encoding": {
"x": {"field": "year", "type": "quantitative", "scale": {"domain": [1970, 2001], "nice": false, "zero": false}, "axis": {"orient": "bottom", "values": [1970,1975,1980,1985,1990,1995,2000], "tickSize": -18, "labels": true, "labelOffset": 8, "labelPadding": 25, "format": "d", "title": null}},
"y": {"field": "value", "type": "quantitative", "scale": {"domain": [0, 80], "nice": false}, "axis": {"orient": "left", "values": [0,20,40,60,80], "tickSize": -12, "labelPadding": 20, "title": ["STRONTIUM, DISSOLVED,", "IN MICROGRAMS PER LITER"], "titlePadding": 8}},
"color": {"field": "kind", "type": "nominal", "title": "EXPLANATION", "scale": {"domain": ["all","seasonal","uncensored","censored"], "range": ["#231f20","#e3262f","#231f20","#231f20"]}},
"shape": {"field": "kind", "type": "nominal", "title": "EXPLANATION", "scale": {"domain": ["all","seasonal","uncensored","censored"], "range": ["M-2,0H2","M-2,0H2","M-1,0H1M0,-1V1","circle"]}},
"size": {"field": "kind", "type": "nominal", "title": "EXPLANATION", "scale": {"type": "ordinal", "domain": ["all","seasonal","uncensored","censored"], "range": [576,576,100,100]}},
"strokeWidth": {"field": "kind", "type": "nominal", "title": "EXPLANATION", "scale": {"type": "ordinal", "domain": ["all","seasonal","uncensored","censored"], "range": [2,2,1.2,1.2]}}
}},
{"transform": [{"filter": "datum.kind === 'censored'"}], "mark": {"type": "point", "filled": false, "opacity": 1},
"encoding": {
"x": {"field": "year", "type": "quantitative", "scale": {"domain": [1970, 2001], "nice": false, "zero": false}, "axis": {"orient": "bottom", "values": [1971,1972,1973,1974,1976,1977,1978,1979,1981,1982,1983,1984,1986,1987,1988,1989,1991,1992,1993,1994,1996,1997,1998,1999], "tickSize": -12, "labels": false, "title": null}},
"y": {"field": "value", "type": "quantitative", "scale": {"domain": [0, 80], "nice": false}, "axis": {"orient": "left", "values": [10,30,50,70], "tickSize": -7, "labels": false, "title": null}},
"color": {"field": "kind", "type": "nominal", "title": "EXPLANATION", "scale": {"domain": ["all","seasonal","uncensored","censored"], "range": ["#231f20","#e3262f","#231f20","#231f20"]}},
"shape": {"field": "kind", "type": "nominal", "title": "EXPLANATION", "scale": {"domain": ["all","seasonal","uncensored","censored"], "range": ["M-2,0H2","M-2,0H2","M-1,0H1M0,-1V1","circle"]}},
"size": {"field": "kind", "type": "nominal", "title": "EXPLANATION", "scale": {"type": "ordinal", "domain": ["all","seasonal","uncensored","censored"], "range": [576,576,100,100]}},
"strokeWidth": {"field": "kind", "type": "nominal", "title": "EXPLANATION", "scale": {"type": "ordinal", "domain": ["all","seasonal","uncensored","censored"], "range": [2,2,1.2,1.2]}}
}},
{"transform": [{"filter": "datum.kind === 'all'"}], "mark": {"type": "line", "interpolate": "monotone"},
"encoding": {
"x": {"field": "year", "type": "quantitative", "scale": {"domain": [1970, 2001], "nice": false, "zero": false}, "axis": {"orient": "top", "values": [1970,1975,1980,1985,1990,1995,2000], "tickSize": -18, "labels": false, "title": null}},
"y": {"field": "value", "type": "quantitative", "scale": {"domain": [0, 80], "nice": false}, "axis": {"orient": "right", "values": [0,20,40,60,80], "tickSize": -12, "labels": false, "title": null}},
"color": {"field": "kind", "type": "nominal", "title": "EXPLANATION", "scale": {"domain": ["all","seasonal","uncensored","censored"], "range": ["#231f20","#e3262f","#231f20","#231f20"]}},
"strokeWidth": {"field": "kind", "type": "nominal", "title": "EXPLANATION", "scale": {"type": "ordinal", "domain": ["all","seasonal","uncensored","censored"], "range": [2,2,1.2,1.2]}}
}},
{"transform": [{"filter": "datum.kind === 'seasonal'"}], "mark": {"type": "line", "interpolate": "monotone"},
"encoding": {
"x": {"field": "year", "type": "quantitative", "scale": {"domain": [1970, 2001], "nice": false, "zero": false}, "axis": {"orient": "top", "values": [1971,1972,1973,1974,1976,1977,1978,1979,1981,1982,1983,1984,1986,1987,1988,1989,1991,1992,1993,1994,1996,1997,1998,1999], "tickSize": -12, "labels": false, "title": null}},
"y": {"field": "value", "type": "quantitative", "scale": {"domain": [0, 80], "nice": false}, "axis": {"orient": "right", "values": [10,30,50,70], "tickSize": -7, "labels": false, "title": null}},
"color": {"field": "kind", "type": "nominal", "title": "EXPLANATION", "scale": {"domain": ["all","seasonal","uncensored","censored"], "range": ["#231f20","#e3262f","#231f20","#231f20"]}},
"strokeWidth": {"field": "kind", "type": "nominal", "title": "EXPLANATION", "scale": {"type": "ordinal", "domain": ["all","seasonal","uncensored","censored"], "range": [2,2,1.2,1.2]}}
}}
],
"resolve": {"axis": {"x": "independent", "y": "independent"}}
},
{
"width": 505, "height": 302, "data": {"name": "zn"},
"layer": [
{"transform": [{"filter": "datum.kind === 'uncensored'"}], "mark": {"type": "point", "filled": false, "opacity": 1, "clip": false},
"encoding": {
"x": {"field": "year", "type": "quantitative", "scale": {"domain": [1970, 2001], "nice": false, "zero": false}, "axis": {"orient": "bottom", "values": [1970,1975,1980,1985,1990,1995,2000], "tickSize": -18, "labels": true, "labelOffset": 8, "labelPadding": 25, "format": "d", "title": null}},
"y": {"field": "value", "type": "quantitative", "scale": {"domain": [0, 40], "nice": false}, "axis": {"orient": "left", "values": [0,10,20,30,40], "tickSize": -12, "labelPadding": 20, "title": ["ZINC, DISSOLVED,", "IN MICROGRAMS PER LITER"], "titlePadding": 15}},
"color": {"field": "kind", "type": "nominal", "title": "EXPLANATION", "scale": {"domain": ["all","seasonal","uncensored","censored"], "range": ["#231f20","#e3262f","#231f20","#231f20"]}},
"shape": {"field": "kind", "type": "nominal", "title": "EXPLANATION", "scale": {"domain": ["all","seasonal","uncensored","censored"], "range": ["M-2,0H2","M-2,0H2","M-1,0H1M0,-1V1","circle"]}},
"size": {"field": "kind", "type": "nominal", "title": "EXPLANATION", "scale": {"type": "ordinal", "domain": ["all","seasonal","uncensored","censored"], "range": [576,576,100,100]}},
"strokeWidth": {"field": "kind", "type": "nominal", "title": "EXPLANATION", "scale": {"type": "ordinal", "domain": ["all","seasonal","uncensored","censored"], "range": [2,2,1.2,1.2]}}
}},
{"transform": [{"filter": "datum.kind === 'censored'"}], "mark": {"type": "point", "filled": false, "opacity": 1},
"encoding": {
"x": {"field": "year", "type": "quantitative", "scale": {"domain": [1970, 2001], "nice": false, "zero": false}, "axis": {"orient": "bottom", "values": [1971,1972,1973,1974,1976,1977,1978,1979,1981,1982,1983,1984,1986,1987,1988,1989,1991,1992,1993,1994,1996,1997,1998,1999], "tickSize": -12, "labels": false, "title": null}},
"y": {"field": "value", "type": "quantitative", "scale": {"domain": [0, 40], "nice": false}, "axis": {"orient": "left", "values": [2,4,6,8,12,14,16,18,22,24,26,28,32,34,36,38], "tickSize": -7, "labels": false, "title": null}},
"color": {"field": "kind", "type": "nominal", "title": "EXPLANATION", "scale": {"domain": ["all","seasonal","uncensored","censored"], "range": ["#231f20","#e3262f","#231f20","#231f20"]}},
"shape": {"field": "kind", "type": "nominal", "title": "EXPLANATION", "scale": {"domain": ["all","seasonal","uncensored","censored"], "range": ["M-2,0H2","M-2,0H2","M-1,0H1M0,-1V1","circle"]}},
"size": {"field": "kind", "type": "nominal", "title": "EXPLANATION", "scale": {"type": "ordinal", "domain": ["all","seasonal","uncensored","censored"], "range": [576,576,100,100]}},
"strokeWidth": {"field": "kind", "type": "nominal", "title": "EXPLANATION", "scale": {"type": "ordinal", "domain": ["all","seasonal","uncensored","censored"], "range": [2,2,1.2,1.2]}}
}},
{"transform": [{"filter": "datum.kind === 'all'"}], "mark": {"type": "line", "interpolate": "linear"},
"encoding": {
"x": {"field": "year", "type": "quantitative", "scale": {"domain": [1970, 2001], "nice": false, "zero": false}, "axis": {"orient": "top", "values": [1970,1975,1980,1985,1990,1995,2000], "tickSize": -18, "labels": false, "title": null}},
"y": {"field": "value", "type": "quantitative", "scale": {"domain": [0, 40], "nice": false}, "axis": {"orient": "right", "values": [0,10,20,30,40], "tickSize": -12, "labels": false, "title": null}},
"color": {"field": "kind", "type": "nominal", "title": "EXPLANATION", "scale": {"domain": ["all","seasonal","uncensored","censored"], "range": ["#231f20","#e3262f","#231f20","#231f20"]}},
"strokeWidth": {"field": "kind", "type": "nominal", "title": "EXPLANATION", "scale": {"type": "ordinal", "domain": ["all","seasonal","uncensored","censored"], "range": [2,2,1.2,1.2]}}
}},
{"transform": [{"filter": "datum.kind === 'seasonal'"}], "mark": {"type": "line", "interpolate": "linear"},
"encoding": {
"x": {"field": "year", "type": "quantitative", "scale": {"domain": [1970, 2001], "nice": false, "zero": false}, "axis": {"orient": "top", "values": [1971,1972,1973,1974,1976,1977,1978,1979,1981,1982,1983,1984,1986,1987,1988,1989,1991,1992,1993,1994,1996,1997,1998,1999], "tickSize": -12, "labels": false, "title": null}},
"y": {"field": "value", "type": "quantitative", "scale": {"domain": [0, 40], "nice": false}, "axis": {"orient": "right", "values": [2,4,6,8,12,14,16,18,22,24,26,28,32,34,36,38], "tickSize": -7, "labels": false, "title": null}},
"color": {"field": "kind", "type": "nominal", "title": "EXPLANATION", "scale": {"domain": ["all","seasonal","uncensored","censored"], "range": ["#231f20","#e3262f","#231f20","#231f20"]}},
"strokeWidth": {"field": "kind", "type": "nominal", "title": "EXPLANATION", "scale": {"type": "ordinal", "domain": ["all","seasonal","uncensored","censored"], "range": [2,2,1.2,1.2]}}
}}
],
"resolve": {"axis": {"x": "independent", "y": "independent"}}
}
],
"config": {
"font": "Liberation Sans",
"view": {"stroke": "#231f20", "strokeWidth": 1.5},
"axis": {"domain": false, "grid": false, "tickColor": "#231f20", "tickWidth": 1.3, "labelFont": "Liberation Sans", "labelFontSize": 19, "labelColor": "#231f20", "labelFlush": false, "labelOverlap": false, "titleFont": "Liberation Sans", "titleFontSize": 19.5, "titleFontWeight": "normal", "titleColor": "#231f20", "titleLineHeight": 23},
"legend": {"orient": "none", "legendX": 742, "legendY": 754, "padding": 0, "titleFont": "Liberation Sans", "titleFontSize": 25, "titleFontWeight": "bold", "titleColor": "#231f20", "titleAnchor": "middle", "titlePadding": 8, "labelFont": "Liberation Sans", "labelFontSize": 19.5, "labelColor": "#231f20", "labelOffset": 22, "labelLimit": 0, "rowPadding": 7, "symbolFillColor": "transparent"}
}
}
